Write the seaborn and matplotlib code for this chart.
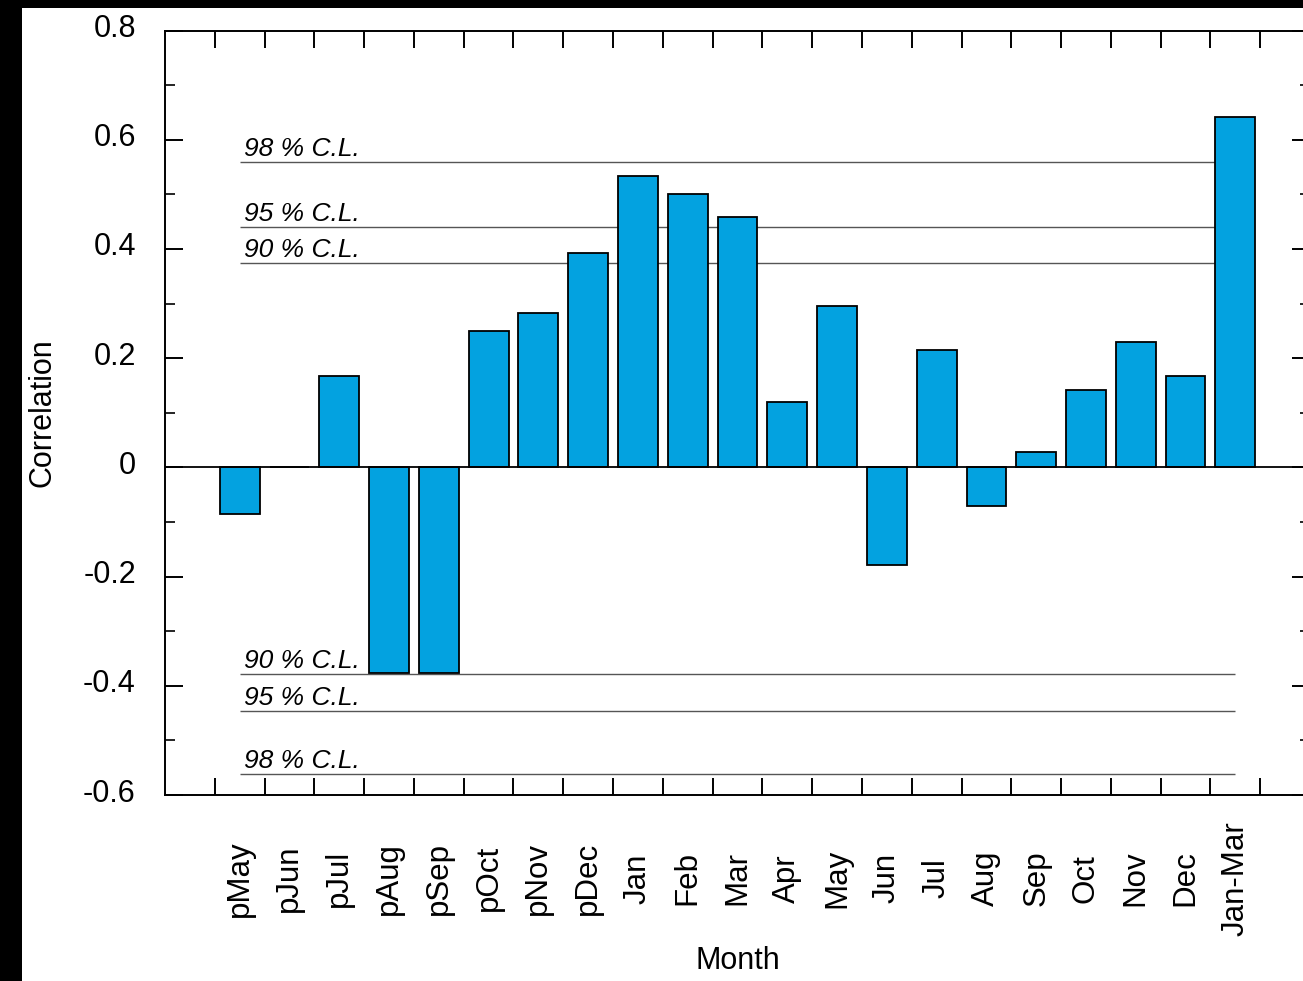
import numpy as np
import pandas as pd
import matplotlib
matplotlib.use("Agg")
import matplotlib.pyplot as plt
from matplotlib.patches import Rectangle
from matplotlib.transforms import ScaledTranslation
import seaborn as sns

# Monthly correlation coefficients (previous year "p" months, current year, and Jan-Mar season)
months = ["pMay", "pJun", "pJul", "pAug", "pSep", "pOct", "pNov", "pDec",
          "Jan", "Feb", "Mar", "Apr", "May", "Jun", "Jul", "Aug", "Sep",
          "Oct", "Nov", "Dec", "Jan-Mar"]
correlation = [-0.086, 0.0, 0.167, -0.377, -0.377, 0.249, 0.282, 0.392,
               0.534, 0.500, 0.459, 0.119, 0.295, -0.178, 0.214, -0.071, 0.029,
               0.141, 0.229, 0.168, 0.642]

# Confidence-limit thresholds
cl_labels = ["98 % C.L.", "95 % C.L.", "90 % C.L."]
cl_upper = [0.560, 0.441, 0.375]
cl_lower = [-0.562, -0.447, -0.379]

ytick_values = [0.8, 0.6, 0.4, 0.2, 0.0, -0.2, -0.4, -0.6]
ytick_labels = ["0.8", "0.6", "0.4", "0.2", "0", "-0.2", "-0.4", "-0.6"]

df = pd.DataFrame({"Month": months, "Correlation": correlation})

sns.set_style("ticks")
plt.rcParams["font.family"] = ["Liberation Sans", "DejaVu Sans"]
plt.rcParams["text.color"] = "black"
plt.rcParams["axes.labelcolor"] = "black"
plt.rcParams["xtick.color"] = "black"
plt.rcParams["ytick.color"] = "black"

fig = plt.figure(figsize=(13.03, 9.81), dpi=100)
fig.patch.set_facecolor("white")
ax = fig.add_axes([165 / 1303, 186 / 981, 1145 / 1303, 764.5 / 981])

bar_color = "#03a2e0"
sns.barplot(data=df, x="Month", y="Correlation", order=months, color=bar_color,
            saturation=1, width=0.8, edgecolor="black", linewidth=1.3,
            ax=ax, zorder=3)

# Confidence-limit lines and their labels
for lab, up, lo in zip(cl_labels, cl_upper, cl_lower):
    ax.hlines([up, lo], 0.0, 20.0, color="#555555", linewidth=1.0, zorder=2)
    ax.text(0.08, up + 0.011, lab, fontsize=19, style="italic",
            va="baseline", ha="left", color="black", zorder=4)
    ax.text(0.08, lo + 0.011, lab, fontsize=19, style="italic",
            va="baseline", ha="left", color="black", zorder=4)

ax.axhline(0, color="black", linewidth=1.3, zorder=4)

ax.set_xlim(-1.5, 21.5)
ax.set_ylim(-0.6, 0.8)

# Category labels at bar centres, tick marks at category boundaries
ax.set_xticks(np.arange(len(months)))
ax.set_xticklabels(months, rotation=90, va="center", ha="center", fontsize=22.5)
ax.set_xticks(np.arange(-0.5, len(months) + 0.5, 1.0), minor=True)
ax.tick_params(axis="x", which="major", length=0, pad=60)
ax.tick_params(axis="x", which="minor", direction="in", length=12, width=1.4,
               top=True, bottom=True)

ax.set_yticks(ytick_values)
ax.set_yticklabels(ytick_labels, fontsize=22)
ax.set_yticks(np.arange(-0.5, 0.8, 0.2), minor=True)
ax.tick_params(axis="y", which="major", direction="in", length=13, width=1.4,
               left=True, right=True, pad=21)
ax.tick_params(axis="y", which="minor", direction="in", length=7, width=1.2,
               left=True, right=True)

# Raise the y tick labels slightly above their ticks
lift = ScaledTranslation(0, 0.05, fig.dpi_scale_trans)
for lbl in ax.get_yticklabels():
    lbl.set_transform(lbl.get_transform() + lift)

for s in ax.spines.values():
    s.set_linewidth(1.4)
    s.set_color("black")

ax.set_xlabel("Month", fontsize=22, va="top")
ax.xaxis.set_label_coords(0.5, -0.198)
ax.set_ylabel("Correlation", fontsize=22)
ax.yaxis.set_label_coords(-0.0935, 0.5)

# Dark border strips along the left and top edges
fig.add_artist(Rectangle((0, 0), 22 / 1303, 1, transform=fig.transFigure,
                         facecolor="black", edgecolor="none", zorder=10))
fig.add_artist(Rectangle((0, 1 - 8 / 981), 1, 8 / 981, transform=fig.transFigure,
                         facecolor="black", edgecolor="none", zorder=10))

fig.savefig("out.png", dpi=100)
